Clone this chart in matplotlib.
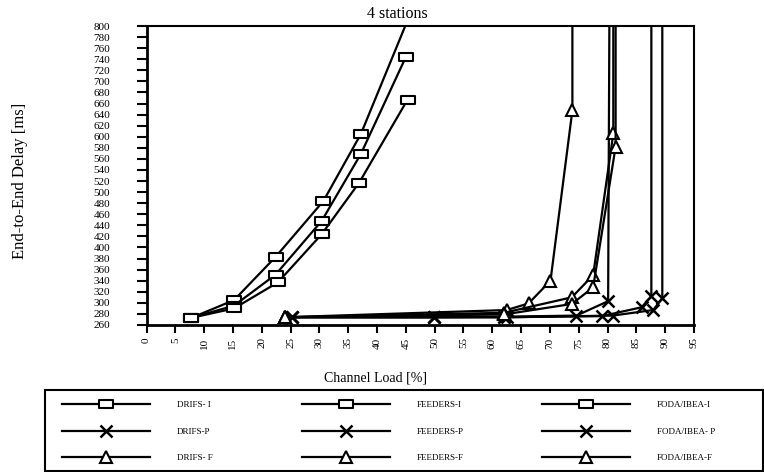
import numpy as np
import matplotlib.pyplot as plt
from matplotlib.path import Path
from matplotlib.patches import Rectangle

plt.rcParams['font.family'] = ['Liberation Serif', 'DejaVu Serif']

# values (x = channel load %, y = delay ms)
# points above 800 are off the chart, they only give the direction of the line
drifs_i_x = [7.8, 15.2, 22.4, 30.7, 37.2, 52.0]
drifs_i_y = [273, 305, 383, 484, 605, 980]
feeders_i_x = [7.8, 15.2, 22.4, 30.4, 37.2, 45.0]
feeders_i_y = [273, 295, 351, 448, 569, 744]
foda_i_x = [7.8, 15.2, 22.8, 30.4, 36.9, 45.3]
foda_i_y = [273, 290, 337, 424, 517, 667]

drifs_p_x = [25.2, 49.8, 62.0, 74.6, 80.1, 80.4]
drifs_p_y = [274, 274, 275, 277, 303, 1000]
feeders_p_x = [25.2, 49.8, 62.0, 79.0, 85.9, 87.6, 87.6]
feeders_p_y = [274, 274, 274, 276, 292, 312, 1000]
foda_p_x = [25.2, 49.8, 62.6, 80.9, 87.9, 89.5, 89.5]
foda_p_y = [274, 274, 274, 277, 287, 308, 1000]

drifs_f_x = [24.0, 62.5, 66.3, 70.1, 73.9, 73.9]
drifs_f_y = [274, 287, 299, 340, 648, 1000]
feeders_f_x = [24.0, 62.0, 73.8, 77.5, 81.0, 81.0]
feeders_f_y = [274, 282, 310, 350, 606, 1000]
foda_f_x = [24.0, 62.0, 73.8, 77.5, 81.4, 81.4]
foda_f_y = [274, 279, 298, 328, 582, 1000]

# wide flat box used as the "square" marker
rect = Path([(-1, -0.6), (1, -0.6), (1, 0.6), (-1, 0.6), (-1, -0.6)],
            [Path.MOVETO, Path.LINETO, Path.LINETO, Path.LINETO, Path.CLOSEPOLY])

fig = plt.figure(figsize=(7.64, 4.72), dpi=100)
ax = fig.add_axes([146.5/764, 1-325/472, (694-146.5)/764, 299/472])

sq = dict(marker=rect, markersize=9.5, markerfacecolor='white', markeredgecolor='black', markeredgewidth=1.5)
xx = dict(marker='x', markersize=8, markeredgewidth=1.8, markeredgecolor='black')
tr = dict(marker='^', markersize=8, markerfacecolor='white', markeredgecolor='black', markeredgewidth=1.5)
lw = 1.6

h = []
h += ax.plot(drifs_i_x, drifs_i_y, color='black', lw=lw, label='DRIFS- I', **sq)
h += ax.plot(drifs_p_x, drifs_p_y, color='black', lw=lw, label='DRIFS-P', **xx)
h += ax.plot(drifs_f_x, drifs_f_y, color='black', lw=lw, label='DRIFS- F', **tr)
h += ax.plot(feeders_i_x, feeders_i_y, color='black', lw=lw, label='FEEDERS-I', **sq)
h += ax.plot(feeders_p_x, feeders_p_y, color='black', lw=lw, label='FEEDERS-P', **xx)
h += ax.plot(feeders_f_x, feeders_f_y, color='black', lw=lw, label='FEEDERS-F', **tr)
h += ax.plot(foda_i_x, foda_i_y, color='black', lw=lw, label='FODA/IBEA-I', **sq)
h += ax.plot(foda_p_x, foda_p_y, color='black', lw=lw, label='FODA/IBEA- P', **xx)
h += ax.plot(foda_f_x, foda_f_y, color='black', lw=lw, label='FODA/IBEA-F', **tr)

ax.set_xlim(0, 95)
ax.set_ylim(260, 800)
ax.set_xticks(np.arange(0, 96, 5))
ax.set_yticks(np.arange(260, 801, 20))
ax.tick_params(axis='x', labelrotation=90, labelsize=8, direction='out', length=6, width=1.5, pad=3)
ax.tick_params(axis='y', labelsize=8, direction='out', length=7, width=1.5, pad=31)
for lab in ax.get_yticklabels():
    lab.set_horizontalalignment('left')
for s in ['left', 'bottom']:
    ax.spines[s].set_linewidth(2)
for s in ['top', 'right']:
    ax.spines[s].set_linewidth(1.5)

fig.text(397/764, 1-14/472, '4 stations', ha='center', va='center', fontsize=11.5)
fig.text(20/764, 1-181/472, 'End-to-End Delay [ms]', rotation=90, ha='center', va='center', fontsize=12)
fig.text(375/764, 1-378/472, 'Channel Load [%]', ha='center', va='center', fontsize=10)

# legend: one column per protocol, inside a common box
for i, x0 in enumerate([62, 302, 542]):
    lg = fig.legend(handles=h[3*i:3*i+3], loc='upper left', bbox_to_anchor=(x0/764, 1-401/472),
                    numpoints=1, fontsize=6.5, handlelength=9.7, handletextpad=3,
                    frameon=False, borderpad=0, borderaxespad=0, labelspacing=2.0)
fig.add_artist(Rectangle((45/764, 1-471/472), 718/764, 81/472, transform=fig.transFigure,
                         fill=False, edgecolor='black', linewidth=1.5))

fig.savefig('out.png', dpi=100)
